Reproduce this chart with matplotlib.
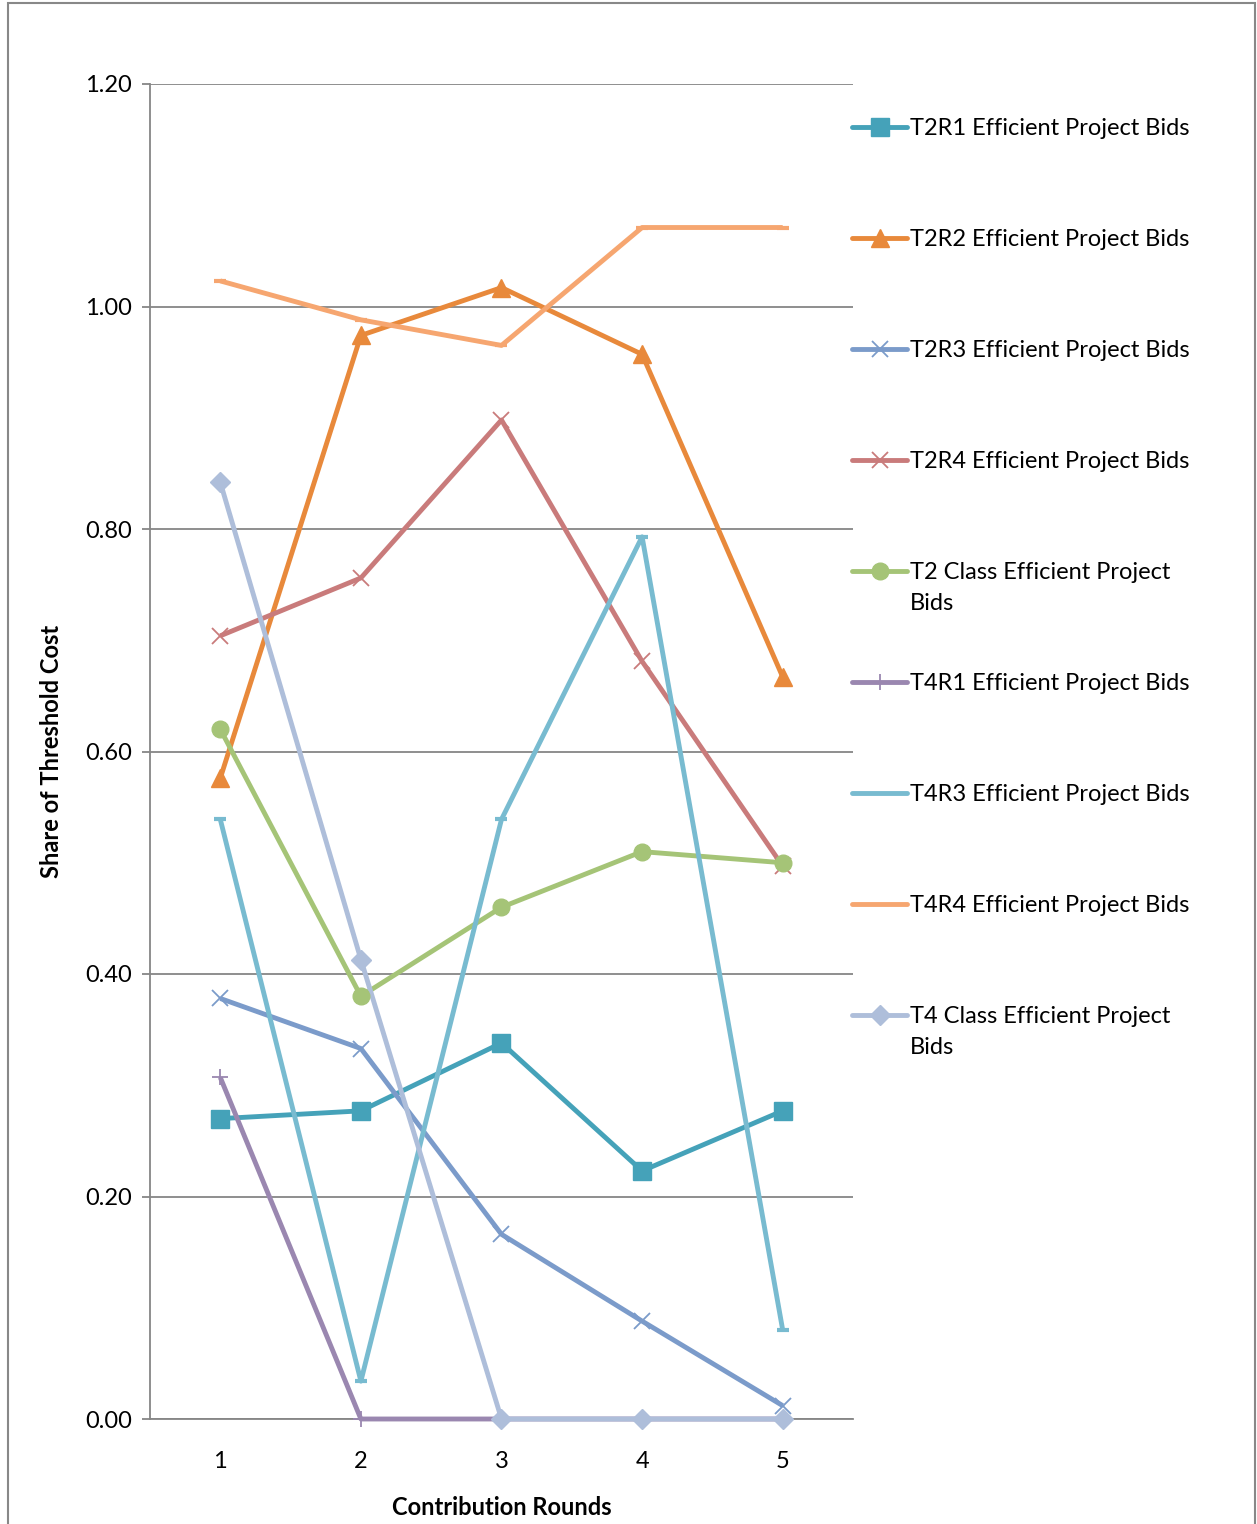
import matplotlib.pyplot as plt
from matplotlib.lines import Line2D
from matplotlib.patches import Rectangle

plt.rcParams['font.family'] = ['Lato', 'DejaVu Sans']

rounds = [1, 2, 3, 4, 5]

t2r1 = [0.270, 0.277, 0.338, 0.223, 0.277]
t2r2 = [0.576, 0.974, 1.017, 0.957, 0.667]
t2r3 = [0.378, 0.333, 0.166, 0.088, 0.012]
t2r4 = [0.704, 0.756, 0.898, 0.681, 0.497]
t2_class = [0.620, 0.380, 0.460, 0.510, 0.500]
t4r1 = [0.307, 0.0, 0.0, 0.0, 0.0]
t4r3 = [0.539, 0.034, 0.539, 0.793, 0.080]
t4r4 = [1.023, 0.988, 0.965, 1.071, 1.071]
t4_class = [0.842, 0.413, 0.0, 0.0, 0.0]

labels = ['T2R1 Efficient Project Bids', 'T2R2 Efficient Project Bids',
          'T2R3 Efficient Project Bids', 'T2R4 Efficient Project Bids',
          'T2 Class Efficient Project\nBids', 'T4R1 Efficient Project Bids',
          'T4R3 Efficient Project Bids', 'T4R4 Efficient Project Bids',
          'T4 Class Efficient Project\nBids']

series = [t2r1, t2r2, t2r3, t2r4, t2_class, t4r1, t4r3, t4r4, t4_class]
colors = ['#45A2B9', '#E8893B', '#7B9BCA', '#C97B7B', '#A5C477',
          '#9A87B0', '#78BBD0', '#F6A670', '#AEBEDA']
markers = ['s', '^', 'x', 'x', 'o', '+', '_', '_', 'D']
msizes = [13, 13, 11, 11, 12, 12, 9, 9, 10]
mews = [1, 1, 1.3, 1.3, 1, 1.3, 3, 3, 1]

FS = 17

fig = plt.figure(figsize=(12.57, 15.24), dpi=100)
ax = fig.add_axes([150 / 1257, 105 / 1524, 703 / 1257, 1335 / 1524])

# lines first, markers on top of every line
for vals, c in zip(series, colors):
    ax.plot(rounds, vals, color=c, lw=3.5, zorder=3, solid_capstyle='butt',
            clip_on=False)
for vals, c, m, ms, mew in zip(series, colors, markers, msizes, mews):
    ax.plot(rounds, vals, ls='none', marker=m, ms=ms, mew=mew, color=c,
            mec=c, zorder=4, clip_on=False)

ax.set_xlim(0.5, 5.5)
ax.set_ylim(0, 1.2)
ax.set_yticks([0, 0.2, 0.4, 0.6, 0.8, 1.0, 1.2])
ax.set_yticklabels(['0.00', '0.20', '0.40', '0.60', '0.80', '1.00', '1.20'])
ax.set_xticks(rounds)
ax.yaxis.grid(True, color='#868686', lw=1.3)
ax.set_axisbelow(True)
for side in ['top', 'right']:
    ax.spines[side].set_visible(False)
for side in ['left', 'bottom']:
    ax.spines[side].set_color('#868686')
    ax.spines[side].set_linewidth(1.3)
    ax.spines[side].set_zorder(1)
ax.tick_params(axis='y', length=6, color='#868686', width=1.3, labelsize=FS, pad=7)
ax.tick_params(axis='x', length=0, labelsize=FS, pad=23)
ax.set_ylabel('Share of Threshold Cost', fontsize=FS, fontweight='bold', labelpad=16)
ax.set_xlabel('Contribution Rounds', fontsize=FS, fontweight='bold', labelpad=17)

# legend entries on the right, one slot per series
for i, (lab, c, m, ms, mew) in enumerate(zip(labels, colors, markers, msizes, mews)):
    yp = 1 - (127 + 111 * i) / 1524
    fig.add_artist(Line2D([852 / 1257, 907 / 1257], [yp, yp], color=c, lw=3.5,
                          solid_capstyle='round'))
    if m != '_':
        fig.add_artist(Line2D([879.5 / 1257], [yp], marker=m, ms=ms, mew=mew,
                              color=c, mec=c, ls='none'))
    fig.text(910 / 1257, yp + 9 / 1524, lab, fontsize=FS, va='top', ha='left',
             linespacing=1.6)

fig.add_artist(Rectangle((8 / 1257, -0.01), 1247 / 1257, 1.01 - 3 / 1524,
                         fill=False, ec='#888888', lw=1.5))

fig.savefig('out.png', dpi=100)
